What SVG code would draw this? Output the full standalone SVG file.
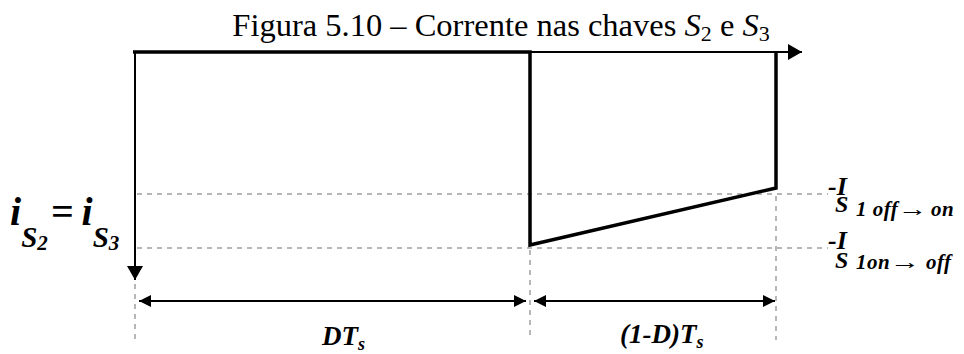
<svg xmlns="http://www.w3.org/2000/svg" width="964" height="354" viewBox="0 0 964 354">
<style>
.title{font-family:"Liberation Serif","Times New Roman",serif;font-size:32.5px;fill:#000}
.lbl{font-family:"Liberation Serif","Times New Roman",serif;font-weight:bold;font-style:italic;fill:#000}
.sub{font-size:21px;letter-spacing:0.5px}
.dash{stroke:#a0a0a0;stroke-width:1.5;stroke-dasharray:5,5;fill:none}
.ax{stroke:#000;stroke-width:2;fill:none}
.wave{stroke:#000;stroke-width:3.5;fill:none;stroke-linejoin:miter}
.dim{stroke:#000;stroke-width:2;fill:none}
</style>
<defs>
<marker id="ah" viewBox="0 0 10 10" refX="10" refY="5" markerWidth="12" markerHeight="12" markerUnits="userSpaceOnUse" orient="auto-start-reverse">
<path d="M0,0 L10,5 L0,10 z" fill="#000"/>
</marker>
<marker id="axh" viewBox="0 0 10 10" refX="10" refY="5" markerWidth="14" markerHeight="16" markerUnits="userSpaceOnUse" orient="auto" preserveAspectRatio="none">
<path d="M0,0 L10,5 L0,10 z" fill="#000"/>
</marker>
</defs>
<g id="title">
<text class="title" x="501" y="36" text-anchor="middle">Figura 5.10 – Corrente nas chaves <tspan font-style="italic">S</tspan><tspan font-size="22" dy="5">2</tspan><tspan dy="-5"> e </tspan><tspan font-style="italic">S</tspan><tspan font-size="22" dy="5">3</tspan></text>
</g>
<g id="guides">
<line class="dash" x1="137" y1="194" x2="828" y2="194"/>
<line class="dash" x1="137" y1="248" x2="828" y2="248"/>
<line class="dash" x1="135" y1="284" x2="135" y2="340"/>
<line class="dash" x1="530" y1="250" x2="530" y2="340"/>
<line class="dash" x1="776" y1="196" x2="776" y2="340"/>
</g>
<g id="axes">
<line class="ax" x1="135" y1="51" x2="135" y2="280" marker-end="url(#axh)"/>
<line class="ax" x1="530" y1="52" x2="802" y2="52" stroke-width="1.5" marker-end="url(#axh)"/>
</g>
<g id="waveform">
<polyline class="wave" points="133,52 530,52 530,245 776,188 776,52"/>
</g>
<g id="connectors">
<line class="dim" x1="139" y1="301" x2="526" y2="301" marker-start="url(#ah)" marker-end="url(#ah)"/>
<line class="dim" x1="534" y1="301" x2="775" y2="301" marker-start="url(#ah)" marker-end="url(#ah)"/>
</g>
<g id="label-is">
<text class="lbl" x="10" y="225" font-size="40">i<tspan font-size="29" dy="22">S</tspan><tspan font-size="21" dy="3">2</tspan><tspan font-size="40" dy="-25" dx="3">=</tspan><tspan font-size="40" dx="8">i</tspan><tspan font-size="29" dy="22">S</tspan><tspan font-size="21" dy="3">3</tspan></text>
</g>
<g id="label-off-on">
<text class="lbl" x="828" y="195" font-size="26">-I<tspan font-size="24" x="835" y="212">S</tspan><tspan class="sub" x="856" y="216">1 off</tspan><tspan class="sub" x="898" y="216" textLength="30" lengthAdjust="spacingAndGlyphs">→</tspan><tspan class="sub" x="931" y="216">on</tspan></text>
</g>
<g id="label-on-off">
<text class="lbl" x="828" y="249" font-size="26">-I<tspan font-size="24" x="835" y="268">S</tspan><tspan class="sub" x="856" y="269">1on</tspan><tspan class="sub" x="890" y="269" textLength="31" lengthAdjust="spacingAndGlyphs">→</tspan><tspan class="sub" x="926" y="269">off</tspan></text>
</g>
<g id="label-dts">
<text class="lbl" x="322" y="345" font-size="27">DT<tspan font-size="18" dy="5">s</tspan></text>
</g>
<g id="label-1dts">
<text class="lbl" x="620" y="343" font-size="27">(1-D)T<tspan font-size="18" dy="5">s</tspan></text>
</g>
</svg>
